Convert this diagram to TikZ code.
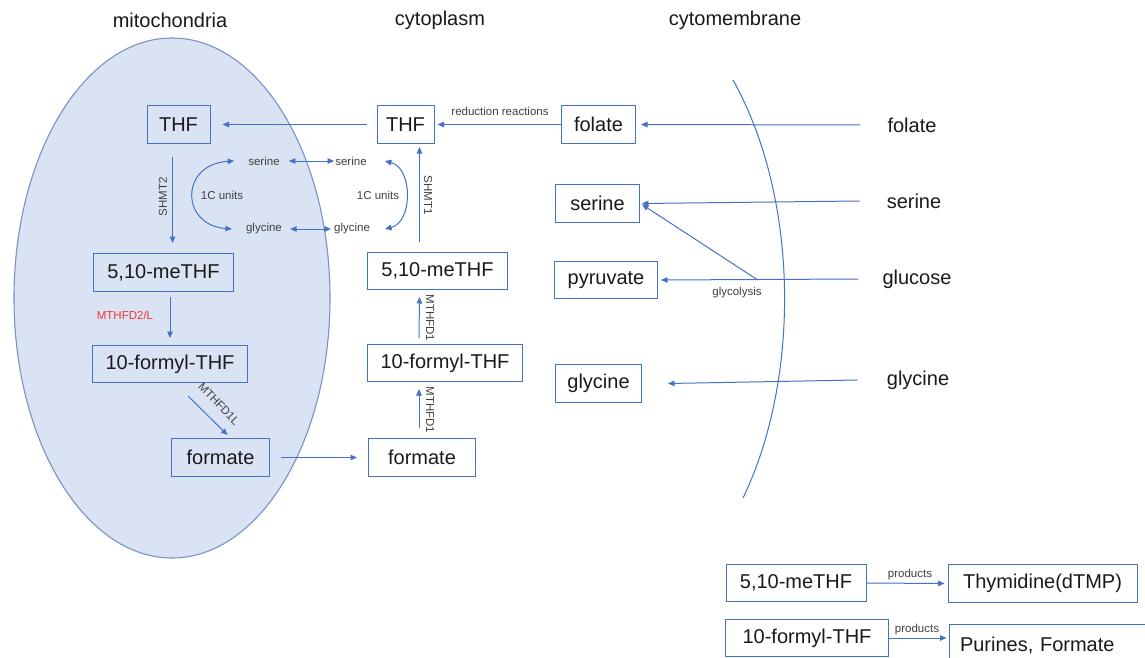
\documentclass[tikz,border=0pt]{standalone}
\usepackage{fontspec}
\setmainfont{Liberation Sans}
\usetikzlibrary{arrows.meta}
\definecolor{boxc}{HTML}{4472C4}
\definecolor{arrc}{HTML}{4472C4}
\definecolor{mitofill}{HTML}{DAE3F3}
\definecolor{mitoline}{HTML}{7A93C4}
\definecolor{lab}{HTML}{404040}
\definecolor{txt}{HTML}{1A1A1A}
\definecolor{redlab}{HTML}{F03434}
\tikzset{
 box/.style={draw=boxc, line width=1pt, inner sep=0pt, font=\fontsize{20}{24}\selectfont, text=txt},
 big/.style={font=\fontsize{20}{24}\selectfont, text=txt, inner sep=0pt},
 lbl/.style={font=\fontsize{11.5}{13}\selectfont, text=lab, inner sep=1pt},
 arr/.style={draw=arrc, line width=1pt, -{Triangle[length=6.5pt,width=5.5pt]}},
 dbl/.style={draw=arrc, line width=1pt, {Triangle[length=6.5pt,width=5.5pt]}-{Triangle[length=6.5pt,width=5.5pt]}},
}
\begin{document}
\begin{tikzpicture}[x=1pt,y=-1pt]
\useasboundingbox[fill=white] (0,0) rectangle (1145,658);
\clip (0,0) rectangle (1145,658);
% compartments
\draw[fill=mitofill, draw=mitoline, line width=1.1pt] (172,298) ellipse [x radius=158pt, y radius=260pt];
\draw[draw=arrc, line width=1pt] (733,80) .. controls (800,200) and (800,380) .. (743,498);
% titles
\node[big] (tmito) at (170,20) {mitochondria};
\node[big] (tcyto) at (440,20) {cytoplasm};
\node[big] (tmemb) at (735,20) {cytomembrane};
% mitochondria boxes
\node[box, minimum width=63pt, minimum height=38pt] (mTHF) at (178.5,124.5) {THF};
\node[box, minimum width=140pt, minimum height=38pt] (m510) at (163.5,272.5) {5,10-meTHF};
\node[box, minimum width=155pt, minimum height=37pt] (m10f) at (170,364) {10-formyl-THF};
\node[box, minimum width=98pt, minimum height=38pt] (mform) at (220.5,457.5) {formate};
% cytoplasm boxes
\node[box, minimum width=57pt, minimum height=38pt] (cTHF) at (405.5,124.5) {THF};
\node[box, minimum width=140pt, minimum height=37pt] (c510) at (437.5,271) {5,10-meTHF};
\node[box, minimum width=155pt, minimum height=37pt] (c10f) at (445,363) {10-formyl-THF};
\node[box, minimum width=107pt, minimum height=38pt] (cform) at (422,457.5) {formate};
\node[box, minimum width=74pt, minimum height=38pt] (folate) at (598.5,124.5) {folate};
\node[box, minimum width=84pt, minimum height=38pt] (serine) at (597.5,203.5) {serine};
\node[box, minimum width=103pt, minimum height=37pt] (pyruvate) at (606,280) {pyruvate};
\node[box, minimum width=86pt, minimum height=38pt] (glycine) at (598.5,383.5) {glycine};
% outside labels
\node[big] (ofol) at (912,125) {folate};
\node[big] (oser) at (914,201) {serine};
\node[big] (oglu) at (917,279) {glucose};
\node[big] (ogly) at (918,380) {glycine};
% small serine / glycine labels
\node[lbl] (ms) at (264,161) {serine};
\node[lbl] (mg) at (264,229) {glycine};
\node[lbl] (cs) at (351,161) {serine};
\node[lbl] (cg) at (352,229) {glycine};
\node[lbl] (m1c) at (222,195) {1C units};
\node[lbl] (c1c) at (378,195) {1C units};
% enzyme labels
\node[lbl, rotate=90] (shmt2) at (163,197) {SHMT2};
\node[lbl, text=redlab] (mthfd2) at (125,315) {MTHFD2/L};
\node[lbl, rotate=-46] (mthfd1l) at (219,404) {MTHFD1L};
\node[lbl, rotate=-90] (mthfd1a) at (430,410) {MTHFD1};
\node[lbl, rotate=-90] (mthfd1b) at (430,318) {MTHFD1};
\node[lbl, rotate=-90] (shmt1) at (428,195) {SHMT1};
\node[lbl] (red) at (500,111) {reduction reactions};
\node[lbl] (glyc) at (737,293) {glycolysis};
\coordinate (gb) at (757,279.5);
% connectors
\draw[arr] ([xshift=-10pt]cTHF.west) -- ([xshift=12pt]mTHF.east);
\draw[arr] (folate.west) -- ([xshift=3pt]cTHF.east);
\draw[arr] ([xshift=-27pt]ofol.west) -- ([xshift=5pt]folate.east);
\draw[arr] ([xshift=-27pt]oser.west) -- ([xshift=2pt]serine.east);
\draw[arr] ([xshift=-24pt]oglu.west) -- ([xshift=3pt]pyruvate.east);
\draw[arr] (gb) -- ([xshift=2pt,yshift=-1pt]serine.east);
\draw[arr] ([xshift=-29pt]ogly.west) -- ([xshift=26pt]glycine.east);
\draw[arr] ([xshift=-6pt,yshift=-13pt]mTHF.south) -- ([xshift=9pt,yshift=10pt]m510.north);
\draw[arr] ([xshift=6.5pt,yshift=-5pt]m510.south) -- ([yshift=7pt]m10f.north);
\draw[arr] ([xshift=18pt,yshift=-13pt]m10f.south) -- ([xshift=7pt,yshift=3pt]mform.north);
\draw[arr] ([xshift=11pt]mform.east) -- ([xshift=-11pt]cform.west);
\draw[arr] ([xshift=-3pt,yshift=10pt]cform.north) -- ([xshift=-26pt,yshift=-7pt]c10f.south);
\draw[arr] ([xshift=-26pt,yshift=6pt]c10f.north) -- ([xshift=-18pt,yshift=-7pt]c510.south);
\draw[arr] ([xshift=-18pt,yshift=10pt]c510.north) -- ([xshift=14pt,yshift=-3pt]cTHF.south);
\draw[dbl] ([xshift=8pt]ms.east) -- (cs.west);
\draw[dbl] ([xshift=7pt]mg.east) -- ([xshift=-2pt]cg.west);
\draw[dbl] ([xshift=-13pt]ms.west) .. controls (180,164) and (180,225) .. ([xshift=-13pt]mg.west);
\draw[dbl] ([xshift=17pt]cs.east) .. controls (413,168) and (413,222) .. ([xshift=14pt]cg.east);
% products
\node[box, minimum width=140pt, minimum height=37pt] (b510) at (796,583) {5,10-meTHF};
\node[box, minimum width=189pt, minimum height=38pt] (thy) at (1042.5,583.5) {Thymidine(dTMP)};
\node[box, minimum width=163pt, minimum height=37pt] (b10f) at (807,638) {10-formyl-THF};
\node[box, anchor=north west, text width=190pt, align=left, inner xsep=11pt, minimum height=44pt] (pur) at (948.5,623.5) {Purines, Formate};
\node[lbl] (p1) at (910,575) {products};
\node[lbl] (p2) at (917,630) {products};
\draw[arr] (b510.east) -- ([xshift=-3pt]thy.west);
\draw[arr, shorten >=2pt] (b10f.east) -- (b10f.east -| pur.west);
\end{tikzpicture}
\end{document}
